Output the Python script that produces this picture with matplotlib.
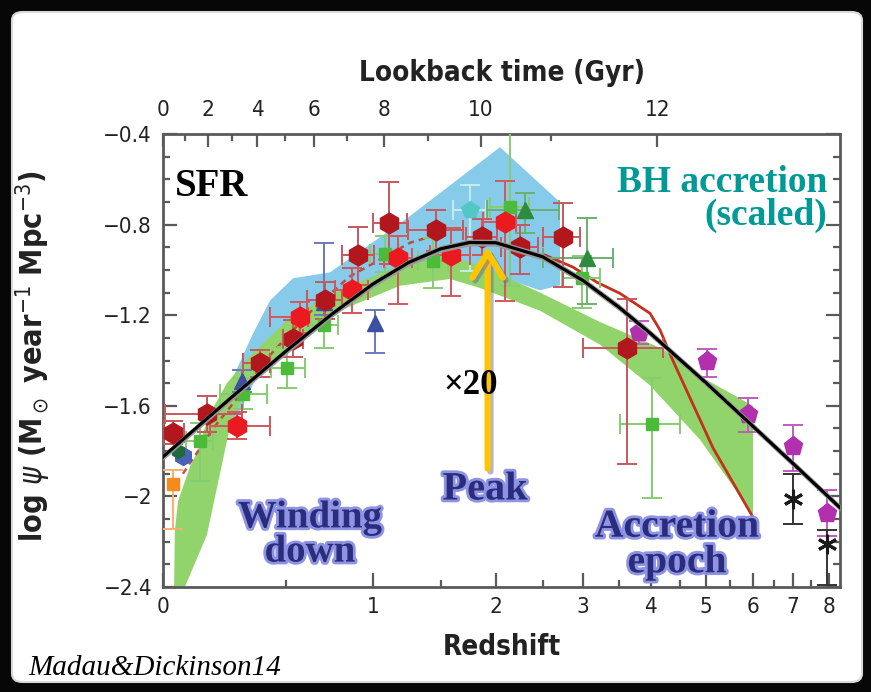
import numpy as np
import matplotlib.pyplot as plt
import matplotlib.patheffects as pe
from matplotlib.patches import FancyBboxPatch

plt.rcParams['font.family'] = ['DejaVu Sans']
plt.rcParams['font.stretch'] = 'condensed'

# fitted SFR density curve (black line)
fit_z = [0, 0.25, 0.5, 0.75, 1, 1.25, 1.5, 1.75, 2, 2.5, 3, 3.5, 4, 5, 6, 7, 8, 8.34]
fit_y = [-1.825, -1.566, -1.359, -1.193, -1.062, -0.967, -0.907, -0.879, -0.880,
         -0.942, -1.047, -1.164, -1.281, -1.498, -1.689, -1.855, -2.003, -2.05]

# BH accretion (scaled) - red solid line
bh_z = [2.53, 2.87, 3.19, 3.52, 3.99, 4.16, 4.38, 5.14, 5.99]
bh_y = [-0.935, -0.988, -1.055, -1.104, -1.192, -1.267, -1.40, -1.785, -2.086]

# red dashed line at low z
irz = [0.068, 0.18, 0.29, 0.42, 0.62, 0.85, 1.26, 1.5]
iry = [-1.90, -1.70, -1.55, -1.38, -1.19, -1.03, -0.88, -0.84]

# blue shaded region (upper edge then lower edge)
blue_z = [0.215, 0.235, 0.346, 0.424, 0.536, 0.735, 1.238, 2.041, 2.707, 2.707,
          2.47, 1.847, 1.579, 1.186, 0.793, 0.521, 0.355, 0.289]
blue_y = [-1.741, -1.533, -1.281, -1.135, -1.037, -1.011, -0.772, -0.458, -0.701, -1.068,
          -1.09, -1.002, -0.966, -1.002, -1.112, -1.267, -1.488, -1.621]

# green shaded band
gup_z = [0.037, 0.040, 0.051, 0.093, 0.122, 0.160, 0.235, 0.332, 0.521, 0.793,
         1.186, 1.579, 1.847, 2.470, 3.230, 4.209, 4.886, 6.009]
gup_y = [-2.42, -2.15, -2.02, -1.87, -1.80, -1.65, -1.50, -1.38, -1.21, -1.09,
         -0.98, -0.94, -0.98, -1.10, -1.23, -1.35, -1.47, -1.60]
glo_z = [0.068, 0.156, 0.199, 0.256, 0.332, 0.521, 0.793, 1.186, 1.579, 1.847,
         2.470, 3.230, 3.989, 4.886, 6.009]
glo_y = [-2.42, -2.17, -1.94, -1.65, -1.51, -1.33, -1.18, -1.07, -1.04, -1.08,
         -1.18, -1.33, -1.51, -1.75, -2.08]

# data points
dr_z = [0.033, 0.156, 0.377, 0.536, 0.707, 0.904, 1.109, 1.462, 1.866, 2.249, 2.745, 3.624]
dr_y = [-1.719, -1.635, -1.413, -1.303, -1.135, -0.935, -0.794, -0.825, -0.856, -0.900, -0.856, -1.347]
dr_xlo = [0.033, 0.15, 0.075, 0.05, 0.10, 0.10, 0.11, 0.22, 0.15, 0.20, 0.24, 0.62]
dr_xhi = [0.04, 0.14, 0.047, 0.05, 0.10, 0.10, 0.13, 0.23, 0.15, 0.20, 0.21, 0.59]
dr_ylo = [0.05, 0.08, 0.06, 0.08, 0.08, 0.13, 0.18, 0.09, 0.08, 0.12, 0.22, 0.51]
dr_yhi = [0.05, 0.08, 0.06, 0.08, 0.08, 0.125, 0.18, 0.09, 0.08, 0.10, 0.15, 0.22]

br_z = [0.277, 0.572, 0.866, 1.172, 1.587, 2.092]
br_y = [-1.688, -1.21, -1.09, -0.949, -0.935, -0.789]
br_xlo = [0.11, 0.15, 0.10, 0.10, 0.17, 0.22]
br_xhi = [0.147, 0.04, 0.10, 0.10, 0.17, 0.11]
br_ylo = [0.06, 0.07, 0.10, 0.20, 0.18, 0.35]
br_yhi = [0.06, 0.07, 0.10, 0.10, 0.12, 0.18]

gs_z = [0.13, 0.302, 0.506, 0.70, 1.08, 1.44, 2.144, 2.986, 4.02]
gs_y = [-1.754, -1.546, -1.431, -1.245, -0.93, -0.96, -0.723, -1.037, -1.679]
gs_xlo = [0.05, 0.095, 0.08, 0.08, 0.10, 0.12, 0.20, 0.25, 0.50]
gs_xhi = [0.05, 0.107, 0.09, 0.08, 0.10, 0.12, 0.20, 0.25, 0.49]
gs_ylo = [0.18, 0.07, 0.09, 0.10, 0.08, 0.12, 0.35, 0.13, 0.33]
gs_yhi = [0.08, 0.07, 0.09, 0.10, 0.08, 0.10, 0.45, 0.10, 0.20]

gt_z = [2.303, 3.053]
gt_y = [-0.736, -0.949]
gt_xlo = [0.39, 0.55]
gt_xhi = [0.39, 0.36]
gt_ylo = [0.10, 0.20]
gt_yhi = [0.075, 0.18]

bt_z = [0.30, 0.70, 1.013]
bt_y = [-1.49, -1.14, -1.236]
bt_ylo = [0.05, 0.06, 0.13]
bt_yhi = [0.05, 0.26, 0.06]

cy_z = [1.754]
cy_y = [-0.736]
cy_ylo = [0.27]
cy_yhi = [0.11]

mg_z = [3.812, 5.02, 5.90, 7.0, 7.95]
mg_y = [-1.276, -1.40, -1.635, -1.776, -2.073]
mg_ylo = [0.05, 0.075, 0.08, 0.11, 0.10]
mg_yhi = [0.05, 0.05, 0.07, 0.09, 0.10]

st_z = [7.0, 7.95]
st_y = [-2.01, -2.21]
st_ylo = [0.11, 0.18]
st_yhi = [0.11, 0.06]

or_z = [0.033]
or_y = [-1.944]

lookback_major = [0, 2, 4, 6, 8, 10, 12]
lookback_minor = [1, 3, 5, 7, 9, 11, 13]
z_ticks = [0, 1, 2, 3, 4, 5, 6, 7, 8]
y_ticks = [-2.4, -2.0, -1.6, -1.2, -0.8, -0.4]
y_ticklabels = ['\u22122.4', '\u22122', '\u22121.6', '\u22121.2', '\u22120.8', '\u22120.4']


def z_of_lookback(t):
    # flat LCDM, h=0.7, Om=0.3
    th = 977.8 / 70.0
    om, ol = 0.3, 0.7
    t0 = 2 * th / (3 * np.sqrt(ol)) * np.arcsinh(np.sqrt(ol / om))
    age = t0 - np.asarray(t, dtype=float)
    s = np.sinh(1.5 * np.sqrt(ol) * age / th) * np.sqrt(om / ol)
    return s ** (-2.0 / 3.0) - 1


def fwd(z):
    return np.log10(np.maximum(1 + np.asarray(z, dtype=float), 1e-9))


def inv(x):
    return 10 ** np.asarray(x, dtype=float) - 1


W, H = 871, 692
fig = plt.figure(figsize=(W / 100, H / 100), dpi=100, facecolor='#060606')
fig.patches.append(FancyBboxPatch((12 / W, 10 / H), 850 / W, 670 / H,
                                  boxstyle='round,pad=0,rounding_size=0.012',
                                  transform=fig.transFigure, facecolor='white',
                                  edgecolor='#d8d8d8', lw=1.5, zorder=-10))

ax = fig.add_axes([163 / W, 1 - 587 / H, 677 / W, 453 / H])
ax.set_xscale('function', functions=(fwd, inv))
ax.set_xlim(0, 8.34)
ax.set_ylim(-2.4, -0.4)

ax.fill(blue_z, blue_y, color='#86cbe9', lw=0, zorder=1)
ax.fill(gup_z + glo_z[::-1], gup_y + glo_y[::-1], color='#92d46c', lw=0, zorder=2)
ax.plot(bh_z, bh_y, color='#c4301c', lw=2, zorder=3)
ax.plot(irz, iry, color='#c0392b', lw=1.8, ls=(0, (2.5, 2)), alpha=0.85, zorder=3)

eb = dict(ls='none', capsize=7, elinewidth=1.4, capthick=1.4, zorder=4)
ax.errorbar(gs_z, gs_y, xerr=[gs_xlo, gs_xhi], yerr=[gs_ylo, gs_yhi], fmt='s', ms=9,
            color='#4cbb3a', ecolor='#86cc72', **eb)
ax.errorbar(bt_z, bt_y, yerr=[bt_ylo, bt_yhi], fmt='^', ms=11,
            color='#3c4fa3', ecolor='#6a78bb', **eb)
ax.errorbar(or_z, or_y, yerr=[[0.2], [0.06]], fmt='s', ms=9,
            color='#f28c1e', ecolor='#f5b070', **eb)
ax.errorbar(cy_z, cy_y, xerr=0.15, yerr=[cy_ylo, cy_yhi], fmt='p', ms=13,
            color='#55c6c6', ecolor='#c4ecec', **eb)
ax.errorbar(gt_z, gt_y, xerr=[gt_xlo, gt_xhi], yerr=[gt_ylo, gt_yhi], fmt='^', ms=12,
            color='#2e8b3e', ecolor='#6cb070', **eb)
ax.errorbar(dr_z, dr_y, xerr=[dr_xlo, dr_xhi], yerr=[dr_ylo, dr_yhi], fmt='h', ms=15,
            color='#b3171e', ecolor='#c6585e', **eb)
ax.errorbar(br_z, br_y, xerr=[br_xlo, br_xhi], yerr=[br_ylo, br_yhi], fmt='h', ms=15,
            color='#ea1a20', ecolor='#d2585c', **eb)
ax.plot([0.068], [-1.82], 'h', ms=13, color='#4a62b8', zorder=4)
ax.plot([0.05], [-1.80], 'h', ms=10, color='#1f6b3a', zorder=4)
ax.errorbar(mg_z, mg_y, yerr=[mg_ylo, mg_yhi], fmt='p', ms=14,
            color='#b22fae', ecolor='#c05cc0', **eb)
ax.errorbar(st_z, st_y, yerr=[st_ylo, st_yhi], fmt='none',
            ecolor='#333333', **eb)
ax.plot(st_z, st_y, marker=(6, 2, 0), ms=14, mew=2.2, ls='none', color='#1a1a1a', zorder=5)

fz = np.array(fit_z)
fy = np.array(fit_y)
ax.fill_between(fz, fy - 0.015, fy + 0.015, color='#9a9a9a', lw=0, zorder=5)
ax.plot(fz, fy, color='black', lw=2.3, zorder=6)

# peak arrow
peak_z = 1.92
arr = ax.annotate('', xy=(peak_z, -0.885), xytext=(peak_z, -1.89),
                  arrowprops=dict(arrowstyle='->,head_length=0.9,head_width=0.55',
                                  lw=4.5, color='#ffc400', mutation_scale=20),
                  zorder=8)
arr.arrow_patch.set_path_effects([pe.SimpleLineShadow(offset=(2, -2), shadow_color='#6a6aa0', alpha=0.5),
                                  pe.Normal()])

# axes styling
spine_c = '#5a5a5a'
for s in ax.spines.values():
    s.set_color(spine_c)
    s.set_linewidth(2)
ax.set_xticks(z_ticks)
ax.set_xticklabels([str(v) for v in z_ticks])
ax.set_xticks(np.arange(0.5, 8, 1.0), minor=True)
ax.set_yticks(y_ticks)
ax.set_yticklabels(y_ticklabels)
ax.set_yticks(np.arange(-2.4, -0.35, 0.1), minor=True)
ax.tick_params(which='both', direction='in', right=True, top=False, colors=spine_c,
               labelcolor='#222222', labelsize=16, width=1.6)
ax.tick_params(which='major', length=10)
ax.tick_params(which='minor', length=5)
ax.tick_params(axis='x', pad=7)
ax.tick_params(axis='y', pad=8)

# lookback time axis on top
top = ax.twiny()
top.set_xscale('function', functions=(fwd, inv))
top.set_xlim(ax.get_xlim())
top.set_xticks(z_of_lookback(lookback_major))
top.set_xticklabels([str(v) for v in lookback_major])
zm = z_of_lookback(lookback_minor)
top.set_xticks(zm[zm < 8.3], minor=True)
top.tick_params(which='both', direction='in', colors=spine_c, labelcolor='#222222',
                labelsize=16, width=1.6, pad=10, bottom=False, labelbottom=False)
top.tick_params(which='major', length=9)
top.tick_params(which='minor', length=5)
for s in top.spines.values():
    s.set_visible(False)
top.set_xlabel('Lookback time (Gyr)', fontsize=20, fontweight='bold', labelpad=14,
               color='#222222')

ax.set_xlabel('Redshift', fontsize=20, fontweight='bold', labelpad=12, color='#222222')
ax.set_ylabel(r'log $\psi$ (M$_\odot$ year$^{-1}$ Mpc$^{-3}$)', fontsize=22,
              fontweight='bold', color='#222222')
ax.yaxis.set_label_coords(-0.163, 0.51)

# annotations
serif = 'Liberation Serif'
glow = [pe.withStroke(linewidth=4, foreground='#8f94e2')]
navy = '#2a2d7e'
fig.text(175 / W, 1 - 186 / H, 'SFR', family=serif, fontweight='bold', fontsize=28,
         color='black', ha='left', va='center')
fig.text(827 / W, 1 - 199 / H, 'BH accretion\n(scaled)', family=serif, fontweight='bold',
         fontsize=27, color='#009a96', ha='right', va='center', multialignment='right',
         linespacing=0.95)
fig.text(443 / W, 1 - 386 / H, '\u00d720', family=serif, fontweight='bold', fontsize=25,
         color='black', ha='left', va='center', zorder=9)
fig.text(485 / W, 1 - 490 / H, 'Peak', family=serif, fontweight='bold', fontsize=29,
         color=navy, ha='center', va='center', path_effects=glow)
fig.text(310 / W, 1 - 535 / H, 'Winding\ndown', family=serif, fontweight='bold', fontsize=28,
         color=navy, ha='center', va='center', linespacing=0.9, path_effects=glow)
fig.text(677 / W, 1 - 545 / H, 'Accretion\nepoch', family=serif, fontweight='bold', fontsize=28.5,
         color=navy, ha='center', va='center', linespacing=0.95, path_effects=glow)
fig.text(28 / W, 1 - 668 / H, 'Madau&Dickinson14', family=serif, style='italic', fontsize=21,
         color='black', ha='left', va='center')

fig.savefig('out.png', dpi=100, facecolor=fig.get_facecolor())
